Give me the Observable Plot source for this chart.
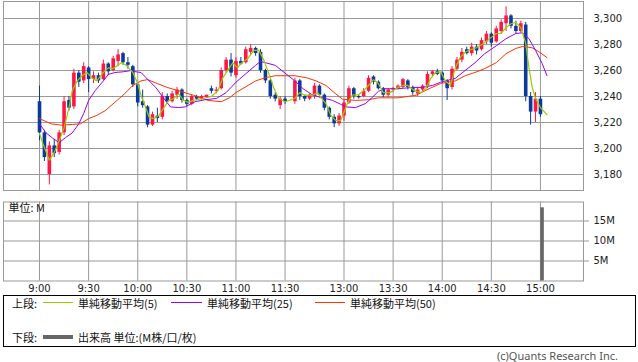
<!DOCTYPE html>
<html><head><meta charset="utf-8">
<script src="https://cdn.jsdelivr.net/npm/d3@7"></script>
<script src="https://cdn.jsdelivr.net/npm/@observablehq/plot@0.6"></script>
<style>
body{margin:0;background:#fff;}
#wrap{position:relative;width:638px;height:362px;overflow:hidden;font-family:"Noto Sans CJK JP",sans-serif;color:#111;}
#upper{position:absolute;left:0;top:0;}
#lower{position:absolute;left:0;top:196px;}
.box{position:absolute;left:3px;top:295px;width:633px;height:52px;border:1px solid #000;box-sizing:border-box;}
.t{position:absolute;font-size:11px;line-height:14px;white-space:nowrap;}
.ln{position:absolute;height:1px;}
</style></head>
<body><div id="wrap">
<div id="upper"></div><div id="lower"></div>
<div class="box"></div>
<div class="t" style="left:12px;top:296px;">上段:</div>
<div class="ln" style="left:43px;width:30px;top:302px;background:#99cc00;"></div>
<div class="t" style="left:78px;top:296px;">単純移動平均(5)</div>
<div class="ln" style="left:171px;width:31px;top:302px;background:#9900ff;"></div>
<div class="t" style="left:207px;top:296px;">単純移動平均(25)</div>
<div class="ln" style="left:315px;width:30px;top:302px;background:#ff3300;"></div>
<div class="t" style="left:350px;top:296px;">単純移動平均(50)</div>
<div class="t" style="left:12px;top:330px;">下段:</div>
<div class="ln" style="left:43px;width:30px;top:335px;height:4px;background:#666;"></div>
<div class="t" style="left:78px;top:330px;">出来高 単位:(M株/口/枚)</div>
<div class="t" style="right:20px;top:349px;line-height:13px;color:#555;font-family:'Noto Sans',sans-serif;">(c)Quants Research Inc.</div>
</div>
<script>
// session minutes from 9:00 (lunch break compressed: 12:30 = 156)
const tickT = [0,30,60,90,120,150,186,216,246,276,306];
const tickLabels = ["9:00","9:30","10:00","10:30","11:00","11:30","13:00","13:30","14:00","14:30","15:00"];
const priceTicks = [3180,3200,3220,3240,3260,3280,3300];
const volTicks = [5,10,15];

const candleT = [0,3,6,9,12,15,18,21,24,27,30,33,36,39,42,45,48,51,54,57,60,63,66,69,72,75,78,81,84,87,90,93,96,99,102,105,108,111,114,117,120,123,126,129,132,135,138,141,144,147,150,
156,159,162,165,168,171,174,177,180,183,186,189,192,195,198,201,204,207,210,213,216,219,222,225,228,231,234,237,240,243,246,249,252,255,258,261,264,267,270,273,276,279,282,285,288,291,294,297,300,303,306];
const opens = [3236,3212,3180,3202,3197,3212,3237,3232,3258,3252,3262,3253,3256,3253,3265,3260,3267,3273,3266,3263,3249,3236,3232,3218,3225,3224,3240,3236,3241,3245,3237,3234,3240,3238,3239,3246,3244,3246,3260,3268,3256,3267,3266,3274,3277,3274,3260,3252,3241,3233,3238,
3236,3252,3240,3238,3240,3248,3241,3231,3224,3219,3225,3235,3246,3240,3240,3244,3255,3251,3246,3241,3245,3246,3247,3252,3247,3242,3245,3248,3257,3259,3258,3252,3247,3261,3268,3276,3273,3278,3276,3282,3288,3282,3290,3296,3302,3294,3290,3295,3240,3228,3238];
const highs = [3248,3214,3205,3207,3214,3240,3240,3261,3260,3266,3263,3259,3258,3268,3266,3271,3276,3274,3270,3264,3250,3245,3233,3228,3231,3243,3242,3244,3247,3246,3238,3241,3241,3241,3241,3248,3247,3262,3270,3273,3270,3270,3278,3280,3278,3276,3261,3253,3243,3240,3240,
3254,3253,3241,3242,3250,3249,3242,3232,3226,3227,3237,3248,3247,3241,3246,3256,3256,3252,3247,3246,3247,3249,3254,3253,3248,3247,3249,3259,3260,3261,3259,3253,3263,3270,3277,3278,3281,3280,3285,3290,3289,3294,3299,3309,3303,3298,3298,3297,3243,3243,3240];
const lows = [3206,3190,3172,3193,3195,3210,3229,3230,3247,3250,3243,3250,3250,3252,3256,3259,3263,3264,3261,3247,3232,3231,3216,3217,3220,3222,3234,3235,3238,3235,3232,3233,3237,3237,3239,3242,3242,3245,3258,3255,3254,3264,3265,3272,3271,3258,3250,3238,3236,3230,3234,
3234,3237,3236,3237,3238,3239,3229,3222,3216,3217,3221,3234,3238,3238,3239,3243,3249,3245,3239,3239,3243,3245,3246,3245,3241,3240,3243,3246,3255,3256,3250,3237,3245,3260,3266,3272,3271,3272,3275,3280,3278,3281,3288,3290,3292,3288,3289,3236,3218,3220,3224];
const closes = [3212,3193,3202,3196,3212,3236,3231,3258,3251,3263,3253,3256,3252,3265,3259,3269,3272,3266,3264,3249,3235,3233,3218,3226,3223,3240,3236,3242,3245,3237,3234,3240,3238,3240,3241,3244,3245,3260,3268,3258,3267,3265,3276,3277,3273,3260,3252,3240,3238,3238,3236,
3252,3240,3238,3241,3248,3241,3231,3224,3219,3225,3235,3246,3240,3239,3244,3254,3251,3246,3241,3245,3246,3248,3253,3247,3243,3245,3248,3257,3259,3257,3252,3246,3261,3268,3274,3273,3278,3275,3283,3288,3281,3292,3297,3302,3294,3290,3296,3240,3228,3238,3226];

const ma5T = [0,2,6,9,12,15,18,20,23,26,29,32,35,39,42,45,50,53,57,60,62,64,67,70,73,76,79,82,85,88,91,94,100,105,109,112,116,118,121,123,127,131,134,137,140,143,146,150,156,159,162,167,170,172,175,178,181,184,188,191,195,198,201,204,207,210,214,219,222,225,229,233,236,239,242,245,248,251,254,257,260,263,266,269,272,276,279,282,285,288,291,294,297,299,301,303,306,310];
const ma5V = [3211.5,3204,3191,3197,3206,3216,3231.5,3244.5,3252,3256,3258.5,3254.5,3252,3258.5,3262,3261.5,3266,3264,3258.5,3250,3241,3234.5,3224,3223,3225.5,3231.5,3237,3238.5,3242,3237,3235.5,3237,3238.5,3240,3244.5,3254.5,3262,3266,3262,3265.5,3269,3275.5,3275.5,3268,3258,3247,3238.5,3236,3238.5,3243,3241,3241,3243,3239,3234.5,3225.5,3221.5,3221.5,3234.5,3241,3241.5,3244.5,3248.5,3253,3250,3243,3243,3247,3248.5,3248.5,3244.5,3243,3246,3254,3258.5,3259,3252,3248.5,3262,3270,3274,3276,3277,3279,3281.5,3285.5,3288.5,3288.5,3293,3296,3297,3293,3281,3262,3247,3238.5,3231.5,3226];
const ma25T = [0,4,8,12,16,20,24,27,30,34,39,42,46,51,56,59,62,65,71,76,80,85,89,95,101,108,114,120,126,132,135,138,144,148,156,161,167,173,179,184,187,193,199,203,207,211,219,228,234,240,245,254,260,266,272,279,285,291,295,299,303,307,310];
const ma25V = [3219,3212,3208,3204.5,3208.5,3212,3219,3227,3237,3244.5,3252,3257,3258.5,3259,3260,3259,3258.5,3254.5,3247,3238.5,3232,3231.5,3232,3236,3237.5,3238.5,3243,3251,3257.5,3264,3267,3266,3264,3260,3252,3246,3241,3239,3237,3234,3232,3231.5,3234.5,3239,3244,3246,3246,3247,3247,3248.5,3251,3254,3260,3266,3273,3279,3284.5,3288.5,3289,3284.5,3275.5,3265.5,3256];
const ma50T = [0,7,13,20,25,30,35,40,46,51,57,62,66,72,78,86,94,103,111,116,120,126,132,138,144,150,156,163,169,175,181,185,193,201,207,219,230,238,245,254,260,266,272,279,285,291,295,301,305,310];
const ma50V = [3223,3219,3218,3218.5,3219,3223,3225.5,3229,3235.5,3241,3248.5,3252,3253,3250,3247,3244,3241,3237,3236,3239,3243,3247.5,3252,3254.5,3256,3256,3256,3254.5,3252,3248.5,3242,3238,3237,3237.5,3239,3239,3241,3246,3250,3252,3256,3258.5,3261.5,3266,3273,3277,3278.5,3277.5,3274.5,3270];

// volume (millions) – only the closing auction bar is visible
const volT = [307];
const volM = [18.3];

const RED = "#ff1744", BLUE = "#0b3a9c";
const xDomain = [-22, 332.3];
const font = {fontFamily:"DejaVu Sans", fontSize:"10px", color:"#222", background:"transparent", overflow:"visible"};

const candles = candleT.map((t,i)=>({t, o:opens[i], h:highs[i], l:lows[i], c:closes[i]}));
const colorOf = d => d.c >= d.o ? RED : BLUE;
const mkLine = (T,V) => T.map((t,i)=>({t, v:V[i]}));

const up = Plot.plot({
  width:638, height:191, marginLeft:3, marginRight:55, marginTop:1, marginBottom:1,
  x:{domain:xDomain, axis:null},
  y:{domain:[3167.7,3313.1], axis:null},
  color:{type:"identity"},
  style:font,
  marks:[
    Plot.gridX(tickT,{stroke:"#999",strokeOpacity:1}),
    Plot.gridY(priceTicks,{stroke:"#999",strokeOpacity:1}),
    Plot.frame({stroke:"#999"}),
    Plot.axisY(priceTicks,{anchor:"right", label:null, tickSize:0, tickPadding:10, tickFormat:d3.format(","), fill:"#222"}),
    Plot.ruleX(candles,{x:"t", y1:"l", y2:"h", stroke:colorOf, strokeWidth:1}),
    Plot.ruleX(candles,{x:"t", y1:"o", y2:"c", stroke:colorOf, strokeWidth:3.6}),
    Plot.line(mkLine(ma50T,ma50V),{x:"t", y:"v", stroke:"#ff3300", strokeWidth:1}),
    Plot.line(mkLine(ma25T,ma25V),{x:"t", y:"v", stroke:"#9900ff", strokeWidth:1}),
    Plot.line(mkLine(ma5T,ma5V),{x:"t", y:"v", stroke:"#99cc00", strokeWidth:1.2})
  ]
});
document.getElementById("upper").appendChild(up);

const vols = volT.map((t,i)=>({t, v:volM[i]}));
const low = Plot.plot({
  width:638, height:100, marginLeft:3, marginRight:55, marginTop:5.5, marginBottom:15.5,
  x:{domain:xDomain, axis:null},
  y:{domain:[0,19.75], axis:null},
  style:font,
  marks:[
    Plot.gridX(tickT,{stroke:"#999",strokeOpacity:1}),
    Plot.gridY(volTicks,{stroke:"#999",strokeOpacity:1}),
    Plot.frame({stroke:"#999"}),
    Plot.axisY(volTicks,{anchor:"right", label:null, tickSize:5, tickPadding:5, stroke:"#999", fill:"#222", tickFormat:d=>d+"M"}),
    Plot.axisX(tickT,{anchor:"bottom", label:null, tickSize:0, tickPadding:4, fill:"#222", tickFormat:d=>tickLabels[tickT.indexOf(d)]}),
    Plot.ruleX(vols,{x:"t", y1:0, y2:"v", stroke:"#666", strokeWidth:3.5}),
    Plot.text(["単位: M"],{frameAnchor:"top-left", dx:5, dy:2, fontFamily:"Noto Sans CJK JP", fontSize:11, fill:"#111"})
  ]
});
document.getElementById("lower").appendChild(low);
</script>
</body></html>
